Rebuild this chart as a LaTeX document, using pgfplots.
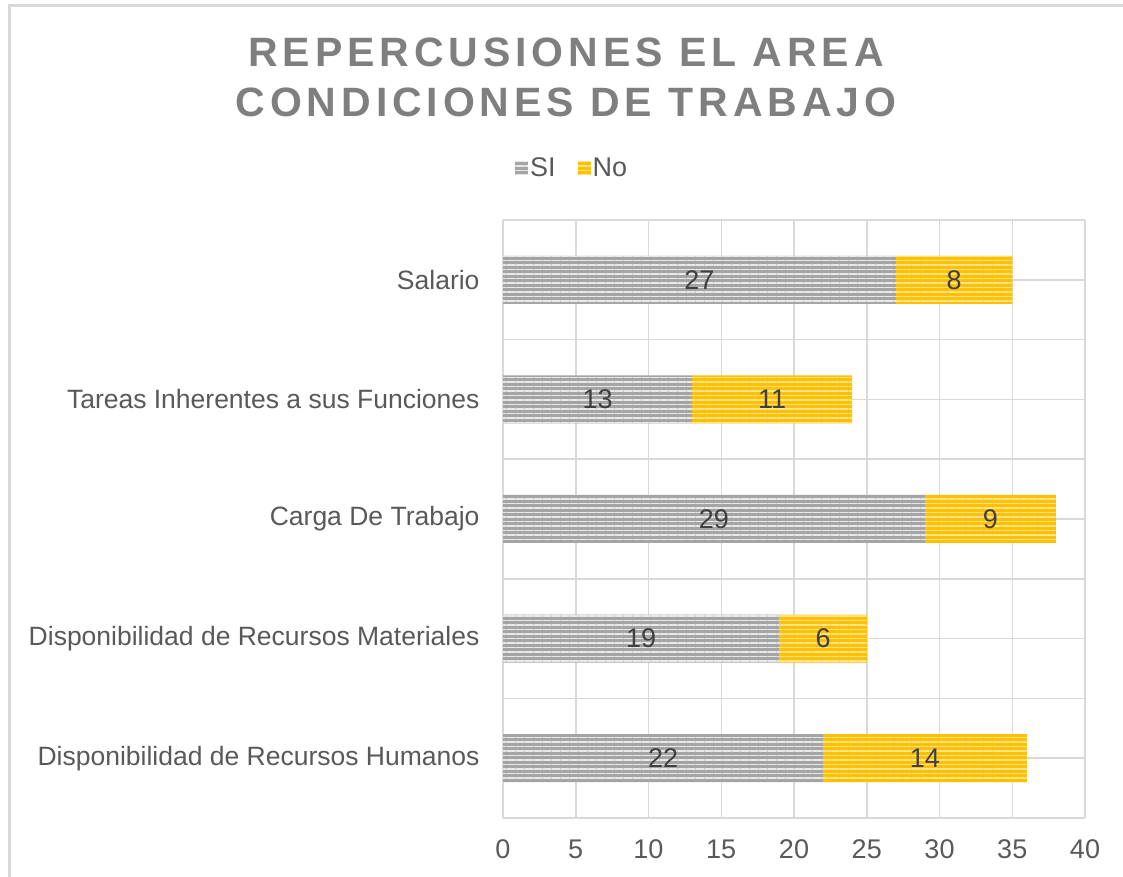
\documentclass[border=0pt]{standalone}
\usepackage{pgfplots}
\pgfplotsset{compat=1.18}
\usepackage{fontspec}
\setmainfont{Liberation Sans}
\newfontfamily\titlefont[LetterSpace=12]{Liberation Sans}
\usetikzlibrary{patterns.meta}
\definecolor{txt}{HTML}{595959}
\definecolor{ttl}{HTML}{7F7F7F}
\definecolor{grd}{HTML}{D9D9D9}
\definecolor{si}{HTML}{A5A5A5}
\definecolor{no}{HTML}{FFC000}
\begin{document}
\begin{tikzpicture}
\useasboundingbox (0,0) rectangle (1123pt,877pt);
\draw[grd, line width=3pt] (9pt,0) -- (9pt,871pt) -- (1123pt,871pt);
\node[ttl, align=center, font={\titlefont\fontsize{41}{50}\selectfont\bfseries}] at (566pt,800pt)
  {REPERCUSIONES EL AREA\\CONDICIONES DE TRABAJO};
\begin{axis}[
  at={(503pt,59pt)}, anchor=south west,
  scale only axis, width=582pt, height=598pt,
  xbar stacked, bar width=48pt,
  xmin=0, xmax=40, xtick={0,5,...,40},
  ymin=-0.5, ymax=4.5,
  ytick={0,1,2,3,4},
  yticklabels={Disponibilidad de Recursos Humanos,Disponibilidad de Recursos Materiales,Carga De Trabajo,Tareas Inherentes a sus Funciones,Salario},
  minor ytick={-0.5,0.5,...,4.5},
  grid=both,
  major grid style={grd, line width=1.5pt},
  minor grid style={grd, line width=1.5pt},
  axis line style={draw=none},
  tick style={draw=none},
  tick label style={font=\fontsize{27}{30}\selectfont, text=txt},
  /pgf/number format/assume math mode=true,
  xticklabel style={anchor=base},
  yticklabel style={font=\fontsize{26.5}{30}\selectfont},
  xticklabel shift=41pt,
  yticklabel shift=20pt,
  extra x ticks={0}, extra x tick labels={},
  extra x tick style={grid style={gray!55, line width=3pt}},
  point meta=explicit symbolic,
  nodes near coords,
  every node near coord/.append style={anchor=center, text=black!75,
    font=\fontsize{27}{30}\selectfont},
  legend style={at={(0.1186,1.087)}, anchor=center, draw=none, fill=none,
    legend columns=2, font=\fontsize{27}{30}\selectfont, text=txt,
    /tikz/every even column/.append style={column sep=20pt}},
  legend image code/.code={\fill[#1] (0pt,-7pt) rectangle (13pt,6pt);},
]
\addplot[fill=si, draw=none, postaction={pattern={Lines[angle=0,distance=4.5pt,line width=1.6pt]}, pattern color=white!75!si}]
  coordinates {(22,0) [22] (19,1) [19] (29,2) [29] (13,3) [13] (27,4) [27]};
\addlegendentry{SI}
\addplot[fill=no, draw=none, postaction={pattern={Lines[angle=0,distance=4.5pt,line width=1.6pt]}, pattern color=white!55!no}]
  coordinates {(14,0) [14] (6,1) [6] (9,2) [9] (11,3) [11] (8,4) [8]};
\addlegendentry{No}
\end{axis}
\end{tikzpicture}
\end{document}
